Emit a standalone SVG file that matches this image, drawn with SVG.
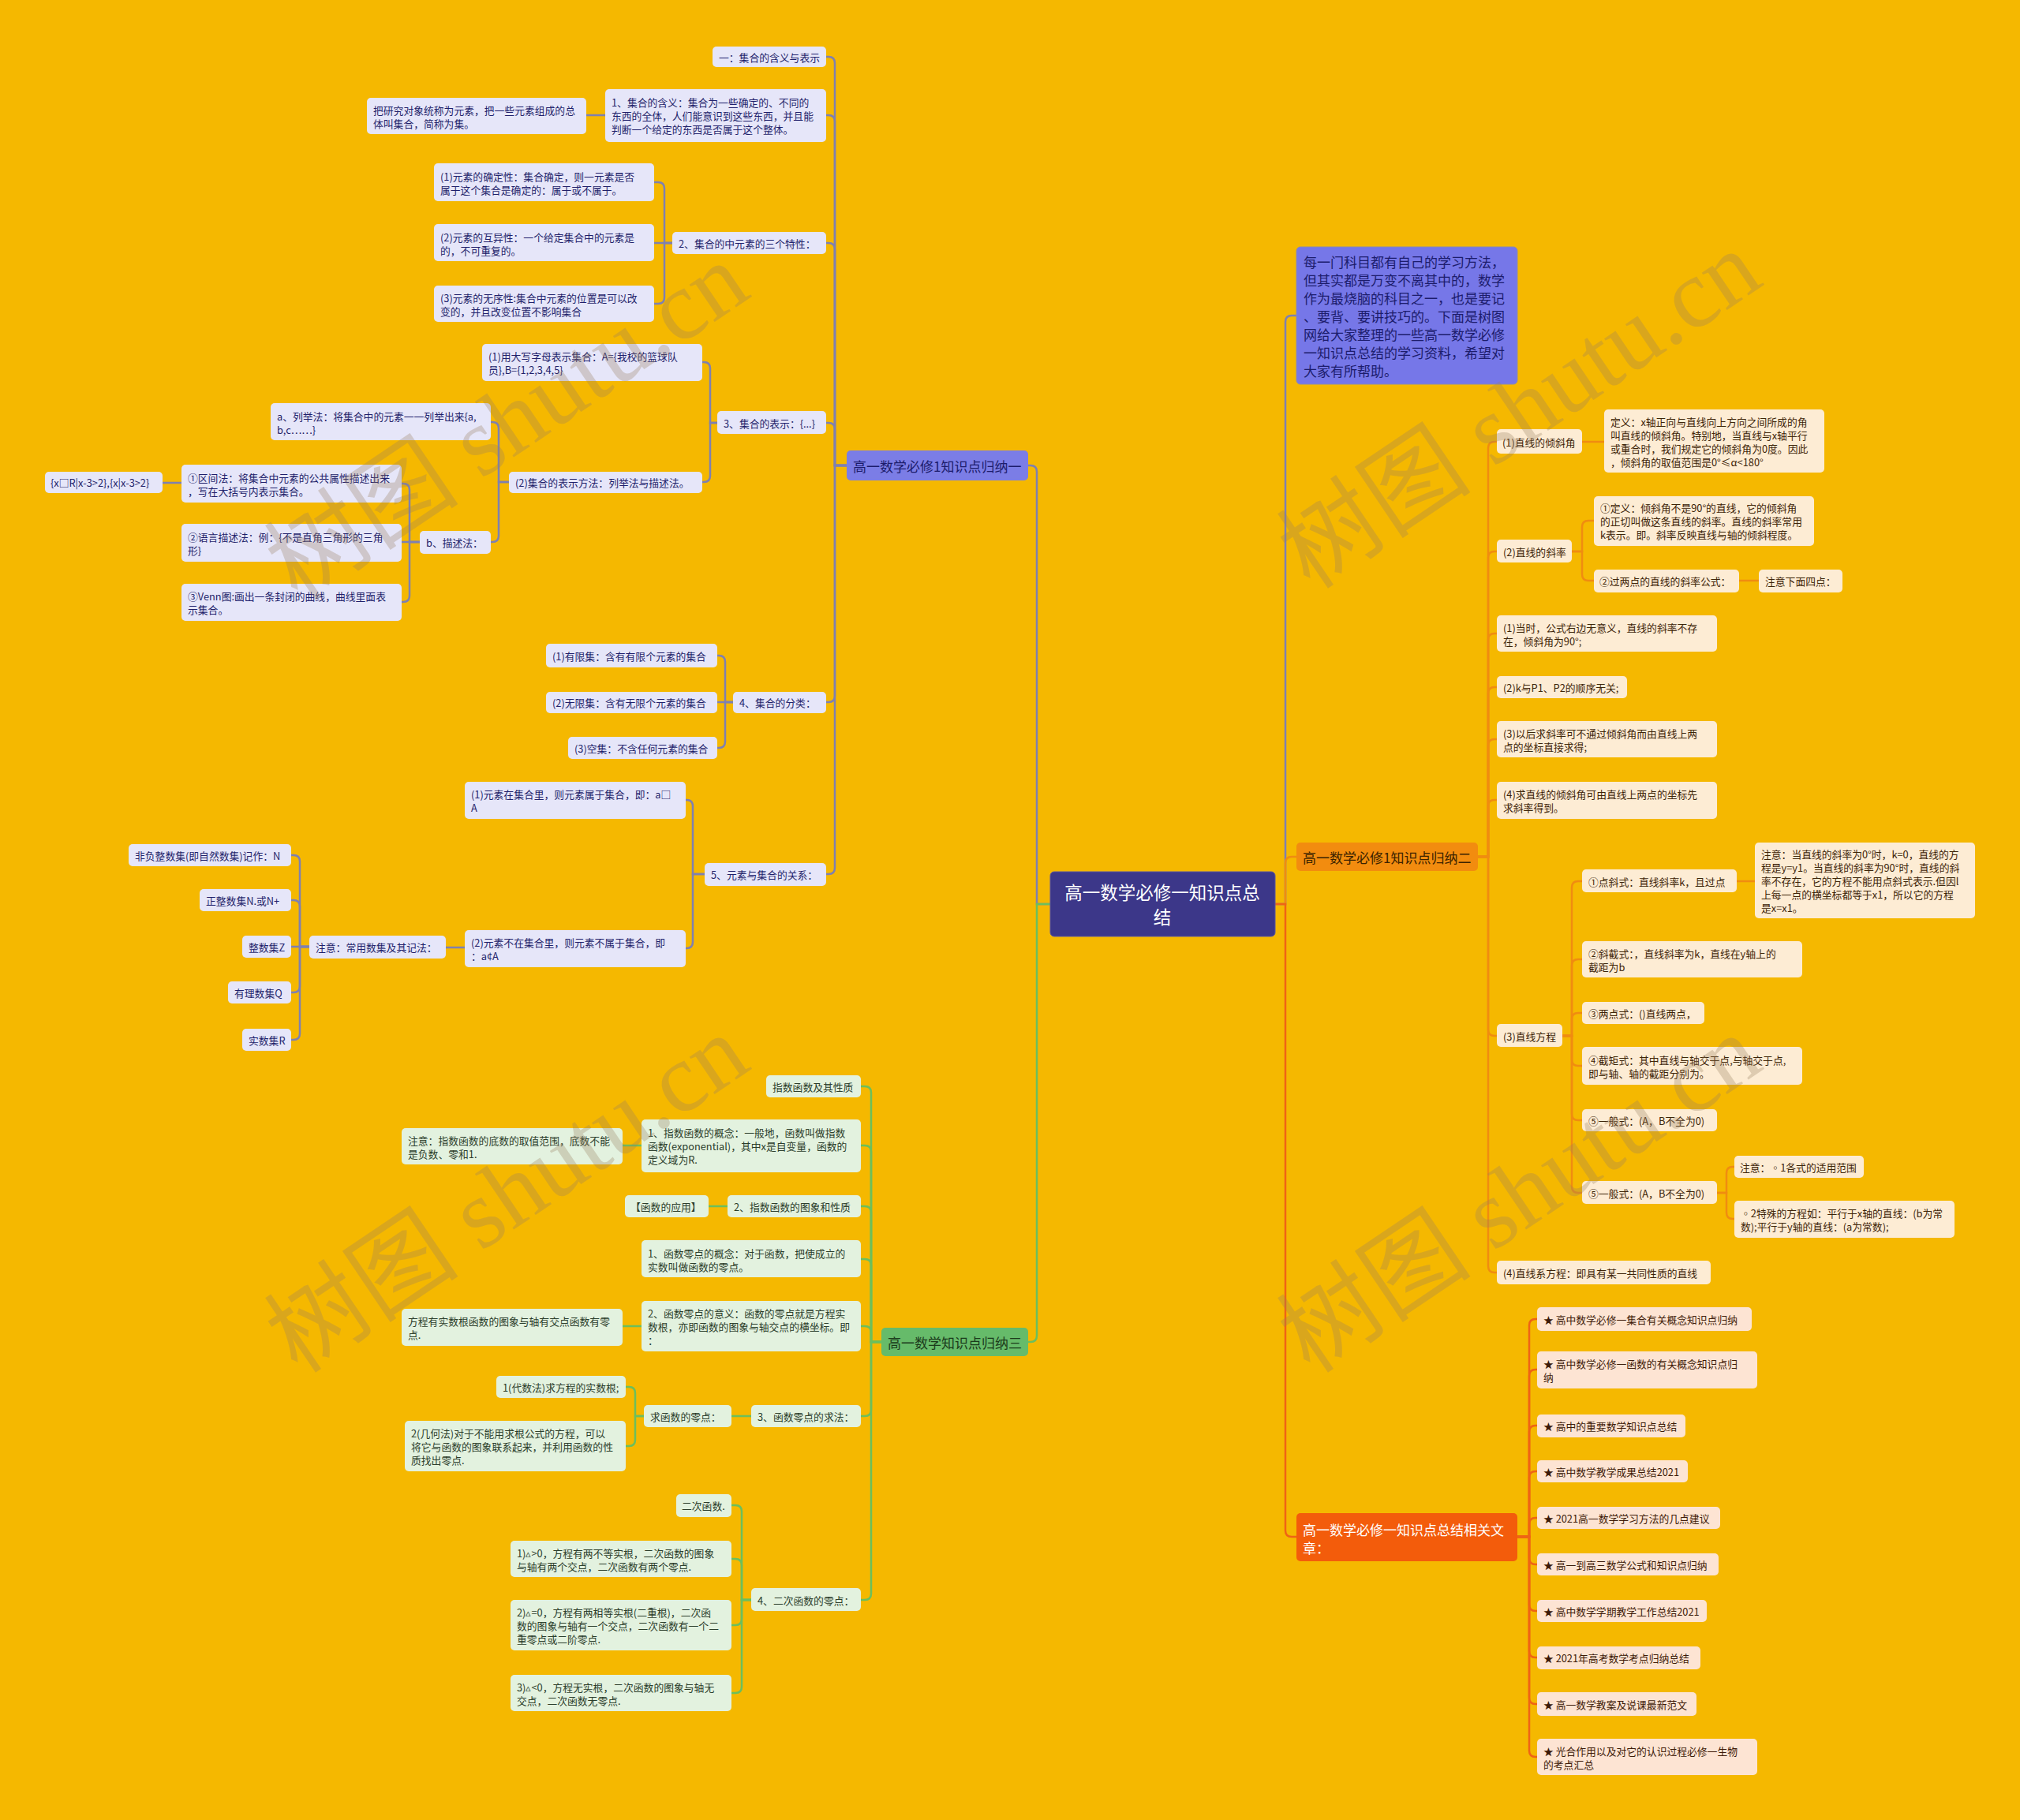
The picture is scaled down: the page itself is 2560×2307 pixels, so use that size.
<svg xmlns="http://www.w3.org/2000/svg" width="2560" height="2307" viewBox="0 0 2560 2307">
<style>
text{font-family:"Noto Sans CJK SC","Liberation Sans",sans-serif;font-size:12.8px;dominant-baseline:central}
.n1{fill:#e6e6f9}.t1{fill:#1f1f6b}
.n2{fill:#fdecd4}.t2{fill:#3d2408}
.n3{fill:#e3f2df}.t3{fill:#2b3d2b}
.n4{fill:#fde4d3}.t4{fill:#3d1a08}
.c1{fill:none;stroke:#7f80b0;stroke-width:2.5}
.c2{fill:none;stroke:#f08c10;stroke-width:2.5}
.c3{fill:none;stroke:#6cbf5c;stroke-width:2.5}
.c4{fill:none;stroke:#ef6414;stroke-width:2.5}
.big{font-size:17px}
.wm{font-family:"Liberation Serif","Noto Sans CJK SC",serif;font-size:124px;fill:#9a8060;opacity:0.3;text-anchor:middle}
</style>
<rect x="0" y="0" width="2560" height="2307" fill="#f5b800"/>

<g id="connectors">
<path class="c1" d="M1331,1146 H1314 V598 Q1314,590 1306,590 H1303"/>
<path class="c3" d="M1331,1146 H1314 V1693 Q1314,1701 1306,1701 H1303"/>
<path class="c1" d="M1616,1146 H1629 V408 Q1629,400 1637,400 H1643"/>
<path class="c2" d="M1616,1146 H1629 V1094 Q1629,1086 1637,1086 H1643"/>
<path class="c4" d="M1616,1146 H1629 V1940 Q1629,1948 1637,1948 H1643"/>
<path class="c1" d="M1073,590 H1058 V80 Q1058,72 1050,72 H1047"/>
<path class="c1" d="M1073,590 H1058 V154 Q1058,146 1050,146 H1047"/>
<path class="c1" d="M1073,590 H1058 V316 Q1058,308 1050,308 H1047"/>
<path class="c1" d="M1073,590 H1058 V544 Q1058,536 1050,536 H1047"/>
<path class="c1" d="M1073,590 H1058 V882 Q1058,890 1050,890 H1047"/>
<path class="c1" d="M1073,590 H1058 V1100 Q1058,1108 1050,1108 H1047"/>
<path class="c1" d="M767,146 H743"/>
<path class="c1" d="M852,308 H842 V239 Q842,231 834,231 H829"/>
<path class="c1" d="M852,308 H829"/>
<path class="c1" d="M852,308 H842 V377 Q842,385 834,385 H829"/>
<path class="c1" d="M909,536 H900 V467 Q900,459 892,459 H890"/>
<path class="c1" d="M909,536 H900 V603 Q900,611 892,611 H890"/>
<path class="c1" d="M645,611 H632 V543 Q632,535 624,535 H622"/>
<path class="c1" d="M645,611 H632 V679 Q632,687 624,687 H622"/>
<path class="c1" d="M532,687 H519 V621 Q519,613 511,613 H509"/>
<path class="c1" d="M532,687 H509"/>
<path class="c1" d="M532,687 H519 V755 Q519,763 511,763 H509"/>
<path class="c1" d="M230,612 H206"/>
<path class="c1" d="M929,890 H919 V839 Q919,831 911,831 H909"/>
<path class="c1" d="M929,890 H909"/>
<path class="c1" d="M929,890 H919 V940 Q919,948 911,948 H909"/>
<path class="c1" d="M893,1108 H878 V1022 Q878,1014 870,1014 H869"/>
<path class="c1" d="M893,1108 H878 V1194 Q878,1202 870,1202 H869"/>
<path class="c1" d="M589,1201 H565"/>
<path class="c1" d="M392,1200 H380 V1092 Q380,1084 372,1084 H369"/>
<path class="c1" d="M392,1200 H380 V1149 Q380,1141 372,1141 H369"/>
<path class="c1" d="M392,1200 H369"/>
<path class="c1" d="M392,1200 H380 V1250 Q380,1258 372,1258 H369"/>
<path class="c1" d="M392,1200 H380 V1310 Q380,1318 372,1318 H369"/>
<path class="c3" d="M1117,1701 H1104 V1385 Q1104,1377 1096,1377 H1091"/>
<path class="c3" d="M1117,1701 H1104 V1460 Q1104,1452 1096,1452 H1091"/>
<path class="c3" d="M1117,1701 H1104 V1537 Q1104,1529 1096,1529 H1091"/>
<path class="c3" d="M1117,1701 H1104 V1604 Q1104,1596 1096,1596 H1091"/>
<path class="c3" d="M1117,1701 H1104 V1689 Q1104,1681 1096,1681 H1091"/>
<path class="c3" d="M1117,1701 H1104 V1787 Q1104,1795 1096,1795 H1091"/>
<path class="c3" d="M1117,1701 H1104 V2020 Q1104,2028 1096,2028 H1091"/>
<path class="c3" d="M813,1452 H789"/>
<path class="c3" d="M922,1529 H898"/>
<path class="c3" d="M813,1681 H789"/>
<path class="c3" d="M952,1795 H927"/>
<path class="c3" d="M816,1795 H805 V1766 Q805,1758 797,1758 H793"/>
<path class="c3" d="M816,1795 H805 V1825 Q805,1833 797,1833 H793"/>
<path class="c3" d="M952,2028 H940 V1916 Q940,1908 932,1908 H927"/>
<path class="c3" d="M952,2028 H940 V1984 Q940,1976 932,1976 H927"/>
<path class="c3" d="M952,2028 H940 V2052 Q940,2060 932,2060 H927"/>
<path class="c3" d="M952,2028 H940 V2138 Q940,2146 932,2146 H927"/>
<path class="c2" d="M1873,1086 H1886 V568 Q1886,560 1894,560 H1897"/>
<path class="c2" d="M1873,1086 H1886 V707 Q1886,699 1894,699 H1897"/>
<path class="c2" d="M1873,1086 H1886 V811 Q1886,803 1894,803 H1897"/>
<path class="c2" d="M1873,1086 H1886 V879 Q1886,871 1894,871 H1897"/>
<path class="c2" d="M1873,1086 H1886 V945 Q1886,937 1894,937 H1897"/>
<path class="c2" d="M1873,1086 H1886 V1022 Q1886,1014 1894,1014 H1897"/>
<path class="c2" d="M1873,1086 H1886 V1305 Q1886,1313 1894,1313 H1897"/>
<path class="c2" d="M1873,1086 H1886 V1605 Q1886,1613 1894,1613 H1897"/>
<path class="c2" d="M2005,560 H2033"/>
<path class="c2" d="M1992,699 H2005 V668 Q2005,660 2013,660 H2020"/>
<path class="c2" d="M1992,699 H2005 V728 Q2005,736 2013,736 H2020"/>
<path class="c2" d="M2204,736 H2229"/>
<path class="c2" d="M1980,1313 H1992 V1125 Q1992,1117 2000,1117 H2005"/>
<path class="c2" d="M1980,1313 H1992 V1224 Q1992,1216 2000,1216 H2005"/>
<path class="c2" d="M1980,1313 H1992 V1292 Q1992,1284 2000,1284 H2005"/>
<path class="c2" d="M1980,1313 H1992 V1343 Q1992,1351 2000,1351 H2005"/>
<path class="c2" d="M1980,1313 H1992 V1412 Q1992,1420 2000,1420 H2005"/>
<path class="c2" d="M1980,1313 H1992 V1504 Q1992,1512 2000,1512 H2005"/>
<path class="c2" d="M2201,1117 H2224"/>
<path class="c2" d="M2176,1512 H2188 V1487 Q2188,1479 2196,1479 H2198"/>
<path class="c2" d="M2176,1512 H2188 V1537 Q2188,1545 2196,1545 H2198"/>
<path class="c4" d="M1923,1948 H1938 V1680 Q1938,1672 1946,1672 H1948"/>
<path class="c4" d="M1923,1948 H1938 V1744 Q1938,1736 1946,1736 H1948"/>
<path class="c4" d="M1923,1948 H1938 V1815 Q1938,1807 1946,1807 H1948"/>
<path class="c4" d="M1923,1948 H1938 V1873 Q1938,1865 1946,1865 H1948"/>
<path class="c4" d="M1923,1948 H1938 V1932 Q1938,1924 1946,1924 H1948"/>
<path class="c4" d="M1923,1948 H1938 V1975 Q1938,1983 1946,1983 H1948"/>
<path class="c4" d="M1923,1948 H1938 V2034 Q1938,2042 1946,2042 H1948"/>
<path class="c4" d="M1923,1948 H1938 V2093 Q1938,2101 1946,2101 H1948"/>
<path class="c4" d="M1923,1948 H1938 V2152 Q1938,2160 1946,2160 H1948"/>
<path class="c4" d="M1923,1948 H1938 V2219 Q1938,2227 1946,2227 H1948"/>
</g>

<g id="root"><rect x="1331" y="1105" width="285" height="82" rx="5" fill="#3c3789" stroke="#5a56a0" stroke-width="1"/>
<text x="1473" text-anchor="middle" fill="#ffffff" style="font-size:22.5px"><tspan x="1473" y="1130">高一数学必修一知识点总</tspan><tspan x="1473" y="1161">结</tspan></text></g>
<g id="branch1"><rect x="1073" y="571" width="230" height="38" rx="5" fill="#7b7de6"/><text class="big" x="1081" y="590" fill="#1c1c6c">高一数学必修1知识点归纳一</text></g>
<g id="intro"><rect x="1643" y="313" width="280" height="174" rx="5" fill="#7677e8" stroke="#8a8ab0" stroke-width="1"/>
<text class="big" fill="#1c1c6c"><tspan x="1652" y="331">每一门科目都有自己的学习方法，</tspan><tspan x="1652" y="354">但其实都是万变不离其中的，数学</tspan><tspan x="1652" y="377">作为最烧脑的科目之一，也是要记</tspan><tspan x="1652" y="400">、要背、要讲技巧的。下面是树图</tspan><tspan x="1652" y="423">网给大家整理的一些高一数学必修</tspan><tspan x="1652" y="446">一知识点总结的学习资料，希望对</tspan><tspan x="1652" y="469">大家有所帮助。</tspan></text></g>
<g id="branch2"><rect x="1643" y="1068" width="230" height="36" rx="5" fill="#f28c0f"/><text class="big" x="1651" y="1086" fill="#3a2200">高一数学必修1知识点归纳二</text></g>
<g id="branch3"><rect x="1117" y="1683" width="186" height="36" rx="5" fill="#66bb6a"/><text class="big" x="1125" y="1701" fill="#1b3a1b">高一数学知识点归纳三</text></g>
<g id="branch4"><rect x="1643" y="1918" width="280" height="61" rx="5" fill="#f35c0b"/>
<text class="big" fill="#ffffff"><tspan x="1651" y="1938">高一数学必修一知识点总结相关文</tspan><tspan x="1651" y="1961">章：</tspan></text></g>

<g id="b1c1"><rect class="n1" x="903" y="59" width="144" height="26" rx="5"/><text class="t1" x="911" y="72">一：集合的含义与表示</text></g>
<g id="b1c2"><rect class="n1" x="767" y="113" width="280" height="67" rx="5"/><text class="t1"><tspan x="775" y="129">1、集合的含义：集合为一些确定的、不同的</tspan><tspan x="775" y="146">东西的全体，人们能意识到这些东西，并且能</tspan><tspan x="775" y="163">判断一个给定的东西是否属于这个整体。</tspan></text></g>
<g id="b1c2a"><rect class="n1" x="465" y="124" width="278" height="46" rx="5"/><text class="t1"><tspan x="473" y="138.5">把研究对象统称为元素，把一些元素组成的总</tspan><tspan x="473" y="155.5">体叫集合，简称为集。</tspan></text></g>
<g id="b1c3"><rect class="n1" x="852" y="294" width="195" height="28" rx="5"/><text class="t1" x="860" y="308">2、集合的中元素的三个特性：</text></g>
<g id="b1c3a"><rect class="n1" x="550" y="207" width="279" height="48" rx="5"/><text class="t1"><tspan x="558" y="222.5">(1)元素的确定性：集合确定，则一元素是否</tspan><tspan x="558" y="239.5">属于这个集合是确定的：属于或不属于。</tspan></text></g>
<g id="b1c3b"><rect class="n1" x="550" y="284" width="279" height="47" rx="5"/><text class="t1"><tspan x="558" y="299.5">(2)元素的互异性：一个给定集合中的元素是</tspan><tspan x="558" y="316.5">的，不可重复的。</tspan></text></g>
<g id="b1c3c"><rect class="n1" x="550" y="362" width="279" height="46" rx="5"/><text class="t1"><tspan x="558" y="376.5">(3)元素的无序性:集合中元素的位置是可以改</tspan><tspan x="558" y="393.5">变的，并且改变位置不影响集合</tspan></text></g>
<g id="b1c4"><rect class="n1" x="909" y="521" width="138" height="29" rx="5"/><text class="t1" x="917" y="536">3、集合的表示：{...}</text></g>
<g id="b1c4a"><rect class="n1" x="611" y="436" width="279" height="47" rx="5"/><text class="t1"><tspan x="619" y="450.5">(1)用大写字母表示集合：A={我校的篮球队</tspan><tspan x="619" y="467.5">员},B={1,2,3,4,5}</tspan></text></g>
<g id="b1c4b"><rect class="n1" x="645" y="598" width="245" height="27" rx="5"/><text class="t1" x="653" y="611">(2)集合的表示方法：列举法与描述法。</text></g>
<g id="b1c4b1"><rect class="n1" x="343" y="511" width="279" height="47" rx="5"/><text class="t1"><tspan x="351" y="526.5">a、列举法：将集合中的元素一一列举出来{a,</tspan><tspan x="351" y="543.5">b,c……}</tspan></text></g>
<g id="b1c4b2"><rect class="n1" x="532" y="673" width="90" height="29" rx="5"/><text class="t1" x="540" y="687">b、描述法：</text></g>
<g id="b1c4b2a"><rect class="n1" x="230" y="589" width="279" height="48" rx="5"/><text class="t1"><tspan x="238" y="604.5">①区间法：将集合中元素的公共属性描述出来</tspan><tspan x="238" y="621.5">，写在大括号内表示集合。</tspan></text></g>
<g id="b1c4b2a1"><rect class="n1" x="57" y="598" width="149" height="27" rx="5"/><text class="t1" x="64" y="611">{x□R|x-3&gt;2},{x|x-3&gt;2}</text></g>
<g id="b1c4b2b"><rect class="n1" x="230" y="664" width="279" height="48" rx="5"/><text class="t1"><tspan x="238" y="679.5">②语言描述法：例：{不是直角三角形的三角</tspan><tspan x="238" y="696.5">形}</tspan></text></g>
<g id="b1c4b2c"><rect class="n1" x="230" y="740" width="279" height="47" rx="5"/><text class="t1"><tspan x="238" y="754.5">③Venn图:画出一条封闭的曲线，曲线里面表</tspan><tspan x="238" y="771.5">示集合。</tspan></text></g>
<g id="b1c5"><rect class="n1" x="929" y="877" width="118" height="27" rx="5"/><text class="t1" x="937" y="890">4、集合的分类：</text></g>
<g id="b1c5a"><rect class="n1" x="692" y="816" width="217" height="30" rx="5"/><text class="t1" x="700" y="831">(1)有限集：含有有限个元素的集合</text></g>
<g id="b1c5b"><rect class="n1" x="692" y="877" width="217" height="27" rx="5"/><text class="t1" x="700" y="890">(2)无限集：含有无限个元素的集合</text></g>
<g id="b1c5c"><rect class="n1" x="720" y="934" width="189" height="28" rx="5"/><text class="t1" x="728" y="948">(3)空集：不含任何元素的集合</text></g>
<g id="b1c6"><rect class="n1" x="893" y="1094" width="154" height="29" rx="5"/><text class="t1" x="901" y="1108">5、元素与集合的关系：</text></g>
<g id="b1c6a"><rect class="n1" x="589" y="991" width="280" height="47" rx="5"/><text class="t1"><tspan x="597" y="1005.5">(1)元素在集合里，则元素属于集合，即：a□</tspan><tspan x="597" y="1022.5">A</tspan></text></g>
<g id="b1c6b"><rect class="n1" x="589" y="1179" width="280" height="47" rx="5"/><text class="t1"><tspan x="597" y="1193.5">(2)元素不在集合里，则元素不属于集合，即</tspan><tspan x="597" y="1210.5">：a¢A</tspan></text></g>
<g id="b1c6b1"><rect class="n1" x="392" y="1186" width="173" height="29" rx="5"/><text class="t1" x="400" y="1200">注意：常用数集及其记法：</text></g>
<g id="b1n1"><rect class="n1" x="163" y="1070" width="206" height="28" rx="5"/><text class="t1" x="171" y="1084">非负整数集(即自然数集)记作：N</text></g>
<g id="b1n2"><rect class="n1" x="253" y="1127" width="116" height="28" rx="5"/><text class="t1" x="261" y="1141">正整数集N.或N+</text></g>
<g id="b1n3"><rect class="n1" x="307" y="1186" width="62" height="28" rx="5"/><text class="t1" x="315" y="1200">整数集Z</text></g>
<g id="b1n4"><rect class="n1" x="289" y="1244" width="80" height="28" rx="5"/><text class="t1" x="297" y="1258">有理数集Q</text></g>
<g id="b1n5"><rect class="n1" x="307" y="1304" width="62" height="28" rx="5"/><text class="t1" x="315" y="1318">实数集R</text></g>

<g id="b3c1"><rect class="n3" x="971" y="1363" width="120" height="28" rx="5"/><text class="t3" x="979" y="1377">指数函数及其性质</text></g>
<g id="b3c2"><rect class="n3" x="813" y="1419" width="278" height="67" rx="5"/><text class="t3"><tspan x="821" y="1435">1、指数函数的概念：一般地，函数叫做指数</tspan><tspan x="821" y="1452">函数(exponential)，其中x是自变量，函数的</tspan><tspan x="821" y="1469">定义域为R.</tspan></text></g>
<g id="b3c2a"><rect class="n3" x="509" y="1430" width="280" height="46" rx="5"/><text class="t3"><tspan x="517" y="1444.5">注意：指数函数的底数的取值范围，底数不能</tspan><tspan x="517" y="1461.5">是负数、零和1.</tspan></text></g>
<g id="b3c3"><rect class="n3" x="922" y="1515" width="169" height="28" rx="5"/><text class="t3" x="930" y="1529">2、指数函数的图象和性质</text></g>
<g id="b3c3a"><rect class="n3" x="792" y="1515" width="106" height="28" rx="5"/><text class="t3" x="799" y="1529">【函数的应用】</text></g>
<g id="b3c4"><rect class="n3" x="813" y="1572" width="278" height="47" rx="5"/><text class="t3"><tspan x="821" y="1587.5">1、函数零点的概念：对于函数，把使成立的</tspan><tspan x="821" y="1604.5">实数叫做函数的零点。</tspan></text></g>
<g id="b3c5"><rect class="n3" x="813" y="1649" width="278" height="64" rx="5"/><text class="t3"><tspan x="821" y="1664">2、函数零点的意义：函数的零点就是方程实</tspan><tspan x="821" y="1681">数根，亦即函数的图象与轴交点的横坐标。即</tspan><tspan x="821" y="1698">：</tspan></text></g>
<g id="b3c5a"><rect class="n3" x="509" y="1659" width="280" height="47" rx="5"/><text class="t3"><tspan x="517" y="1673.5">方程有实数根函数的图象与轴有交点函数有零</tspan><tspan x="517" y="1690.5">点.</tspan></text></g>
<g id="b3c6"><rect class="n3" x="952" y="1781" width="139" height="28" rx="5"/><text class="t3" x="960" y="1795">3、函数零点的求法：</text></g>
<g id="b3c6a"><rect class="n3" x="816" y="1781" width="111" height="28" rx="5"/><text class="t3" x="824" y="1795">求函数的零点：</text></g>
<g id="b3c6a1"><rect class="n3" x="629" y="1744" width="164" height="28" rx="5"/><text class="t3" x="637" y="1758">1(代数法)求方程的实数根;</text></g>
<g id="b3c6a2"><rect class="n3" x="513" y="1801" width="280" height="64" rx="5"/><text class="t3"><tspan x="521" y="1816">2(几何法)对于不能用求根公式的方程，可以</tspan><tspan x="521" y="1833">将它与函数的图象联系起来，并利用函数的性</tspan><tspan x="521" y="1850">质找出零点.</tspan></text></g>
<g id="b3c7"><rect class="n3" x="952" y="2013" width="139" height="29" rx="5"/><text class="t3" x="960" y="2028">4、二次函数的零点：</text></g>
<g id="b3c7a"><rect class="n3" x="857" y="1894" width="70" height="29" rx="5"/><text class="t3" x="864" y="1908">二次函数.</text></g>
<g id="b3c7b"><rect class="n3" x="647" y="1953" width="280" height="46" rx="5"/><text class="t3"><tspan x="655" y="1967.5">1)▵&gt;0，方程有两不等实根，二次函数的图象</tspan><tspan x="655" y="1984.5">与轴有两个交点，二次函数有两个零点.</tspan></text></g>
<g id="b3c7c"><rect class="n3" x="647" y="2028" width="280" height="64" rx="5"/><text class="t3"><tspan x="655" y="2043">2)▵=0，方程有两相等实根(二重根)，二次函</tspan><tspan x="655" y="2060">数的图象与轴有一个交点，二次函数有一个二</tspan><tspan x="655" y="2077">重零点或二阶零点.</tspan></text></g>
<g id="b3c7d"><rect class="n3" x="647" y="2123" width="280" height="46" rx="5"/><text class="t3"><tspan x="655" y="2137.5">3)▵&lt;0，方程无实根，二次函数的图象与轴无</tspan><tspan x="655" y="2154.5">交点，二次函数无零点.</tspan></text></g>

<g id="b2c1"><rect class="n2" x="1897" y="544" width="108" height="31" rx="5"/><text class="t2" x="1904" y="560">(1)直线的倾斜角</text></g>
<g id="b2c1a"><rect class="n2" x="2033" y="519" width="279" height="80" rx="5"/><text class="t2"><tspan x="2041" y="533.5">定义：x轴正向与直线向上方向之间所成的角</tspan><tspan x="2041" y="550.5">叫直线的倾斜角。特别地，当直线与x轴平行</tspan><tspan x="2041" y="567.5">或重合时，我们规定它的倾斜角为0度。因此</tspan><tspan x="2041" y="584.5">，倾斜角的取值范围是0°≤α&lt;180°</tspan></text></g>
<g id="b2c2"><rect class="n2" x="1897" y="684" width="95" height="29" rx="5"/><text class="t2" x="1905" y="699">(2)直线的斜率</text></g>
<g id="b2c2a"><rect class="n2" x="2020" y="629" width="279" height="63" rx="5"/><text class="t2"><tspan x="2028" y="643">①定义：倾斜角不是90°的直线，它的倾斜角</tspan><tspan x="2028" y="660">的正切叫做这条直线的斜率。直线的斜率常用</tspan><tspan x="2028" y="677">k表示。即。斜率反映直线与轴的倾斜程度。</tspan></text></g>
<g id="b2c2b"><rect class="n2" x="2020" y="722" width="184" height="29" rx="5"/><text class="t2" x="2027" y="736">②过两点的直线的斜率公式：</text></g>
<g id="b2c2b1"><rect class="n2" x="2229" y="722" width="106" height="29" rx="5"/><text class="t2" x="2237" y="736">注意下面四点：</text></g>
<g id="b2c3"><rect class="n2" x="1897" y="780" width="279" height="46" rx="5"/><text class="t2"><tspan x="1905" y="794.5">(1)当时，公式右边无意义，直线的斜率不存</tspan><tspan x="1905" y="811.5">在，倾斜角为90°;</tspan></text></g>
<g id="b2c4"><rect class="n2" x="1897" y="857" width="165" height="28" rx="5"/><text class="t2" x="1905" y="871">(2)k与P1、P2的顺序无关;</text></g>
<g id="b2c5"><rect class="n2" x="1897" y="914" width="279" height="46" rx="5"/><text class="t2"><tspan x="1905" y="928.5">(3)以后求斜率可不通过倾斜角而由直线上两</tspan><tspan x="1905" y="945.5">点的坐标直接求得;</tspan></text></g>
<g id="b2c6"><rect class="n2" x="1897" y="991" width="279" height="47" rx="5"/><text class="t2"><tspan x="1905" y="1005.5">(4)求直线的倾斜角可由直线上两点的坐标先</tspan><tspan x="1905" y="1022.5">求斜率得到。</tspan></text></g>
<g id="b2c7"><rect class="n2" x="1897" y="1298" width="83" height="29" rx="5"/><text class="t2" x="1905" y="1313">(3)直线方程</text></g>
<g id="b2c7a"><rect class="n2" x="2005" y="1102" width="196" height="29" rx="5"/><text class="t2" x="2013" y="1117">①点斜式：直线斜率k，且过点</text></g>
<g id="b2c7a1"><rect class="n2" x="2224" y="1068" width="279" height="96" rx="5"/><text class="t2"><tspan x="2232" y="1082">注意：当直线的斜率为0°时，k=0，直线的方</tspan><tspan x="2232" y="1099">程是y=y1。当直线的斜率为90°时，直线的斜</tspan><tspan x="2232" y="1116">率不存在，它的方程不能用点斜式表示.但因l</tspan><tspan x="2232" y="1133">上每一点的横坐标都等于x1，所以它的方程</tspan><tspan x="2232" y="1150">是x=x1。</tspan></text></g>
<g id="b2c7b"><rect class="n2" x="2005" y="1193" width="279" height="46" rx="5"/><text class="t2"><tspan x="2013" y="1207.5">②斜截式：，直线斜率为k，直线在y轴上的</tspan><tspan x="2013" y="1224.5">截距为b</tspan></text></g>
<g id="b2c7c"><rect class="n2" x="2005" y="1270" width="155" height="28" rx="5"/><text class="t2" x="2013" y="1284">③两点式：()直线两点，</text></g>
<g id="b2c7d"><rect class="n2" x="2005" y="1327" width="279" height="48" rx="5"/><text class="t2"><tspan x="2013" y="1342.5">④截矩式：其中直线与轴交于点,与轴交于点,</tspan><tspan x="2013" y="1359.5">即与轴、轴的截距分别为。</tspan></text></g>
<g id="b2c7e"><rect class="n2" x="2005" y="1406" width="171" height="28" rx="5"/><text class="t2" x="2013" y="1420">⑤一般式：(A，B不全为0)</text></g>
<g id="b2c7f"><rect class="n2" x="2005" y="1497" width="171" height="29" rx="5"/><text class="t2" x="2013" y="1512">⑤一般式：(A，B不全为0)</text></g>
<g id="b2c7f1"><rect class="n2" x="2198" y="1465" width="164" height="28" rx="5"/><text class="t2" x="2205" y="1479">注意：◦1各式的适用范围</text></g>
<g id="b2c7f2"><rect class="n2" x="2198" y="1522" width="279" height="47" rx="5"/><text class="t2"><tspan x="2206" y="1536.5">◦2特殊的方程如：平行于x轴的直线：(b为常</tspan><tspan x="2206" y="1553.5">数);平行于y轴的直线：(a为常数);</tspan></text></g>
<g id="b2c8"><rect class="n2" x="1897" y="1598" width="271" height="30" rx="5"/><text class="t2" x="1905" y="1613">(4)直线系方程：即具有某一共同性质的直线</text></g>

<g id="b4c1"><rect class="n4" x="1948" y="1657" width="272" height="30" rx="5"/><text class="t4" x="1956" y="1672">★ 高中数学必修一集合有关概念知识点归纳</text></g>
<g id="b4c2"><rect class="n4" x="1948" y="1713" width="279" height="47" rx="5"/><text class="t4"><tspan x="1956" y="1727.5">★ 高中数学必修一函数的有关概念知识点归</tspan><tspan x="1956" y="1744.5">纳</tspan></text></g>
<g id="b4c3"><rect class="n4" x="1948" y="1793" width="188" height="29" rx="5"/><text class="t4" x="1956" y="1807">★ 高中的重要数学知识点总结</text></g>
<g id="b4c4"><rect class="n4" x="1948" y="1851" width="191" height="28" rx="5"/><text class="t4" x="1956" y="1865">★ 高中数学教学成果总结2021</text></g>
<g id="b4c5"><rect class="n4" x="1948" y="1910" width="232" height="28" rx="5"/><text class="t4" x="1956" y="1924">★ 2021高一数学学习方法的几点建议</text></g>
<g id="b4c6"><rect class="n4" x="1948" y="1969" width="230" height="28" rx="5"/><text class="t4" x="1956" y="1983">★ 高一到高三数学公式和知识点归纳</text></g>
<g id="b4c7"><rect class="n4" x="1948" y="2028" width="215" height="28" rx="5"/><text class="t4" x="1956" y="2042">★ 高中数学学期教学工作总结2021</text></g>
<g id="b4c8"><rect class="n4" x="1948" y="2087" width="207" height="29" rx="5"/><text class="t4" x="1956" y="2101">★ 2021年高考数学考点归纳总结</text></g>
<g id="b4c9"><rect class="n4" x="1948" y="2145" width="202" height="30" rx="5"/><text class="t4" x="1956" y="2160">★ 高一数学教案及说课最新范文</text></g>
<g id="b4c10"><rect class="n4" x="1948" y="2204" width="279" height="46" rx="5"/><text class="t4"><tspan x="1956" y="2218.5">★ 光合作用以及对它的认识过程必修一生物</tspan><tspan x="1956" y="2235.5">的考点汇总</tspan></text></g>

<g id="watermarks">
<text class="wm" x="643" y="535" transform="rotate(-34 643 535)">树图 shutu.cn</text>
<text class="wm" x="1926" y="520" transform="rotate(-34 1926 520)">树图 shutu.cn</text>
<text class="wm" x="643" y="1514" transform="rotate(-34 643 1514)">树图 shutu.cn</text>
<text class="wm" x="1926" y="1514" transform="rotate(-34 1926 1514)">树图 shutu.cn</text>
</g>
</svg>
